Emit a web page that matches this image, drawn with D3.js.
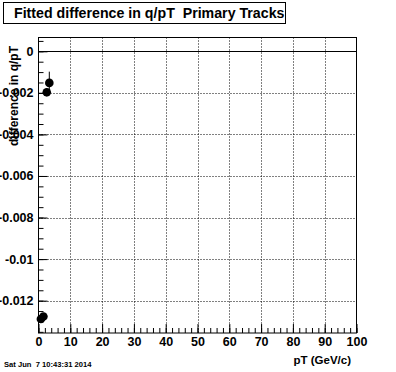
<!DOCTYPE html>
<html>
<head>
<meta charset="utf-8">
<script src="https://cdn.jsdelivr.net/npm/d3@7"></script>
<style>
  body { margin: 0; background: #fff; }
  text { font-family: "Liberation Sans", Arial, Helvetica, sans-serif; }
</style>
</head>
<body>
<div id="chart"></div>
<script>
// data
const ptValues = [0.75, 1.55, 2.6, 3.4];
const diffValues = [-0.01288, -0.01276, -0.00197, -0.00152];
const diffErrors = [0.00003, 0.00003, 0.0002, 0.00054];

const xTicks = [0, 10, 20, 30, 40, 50, 60, 70, 80, 90, 100];
const xTickLabels = ["0", "10", "20", "30", "40", "50", "60", "70", "80", "90", "100"];
const yTicks = [0, -0.002, -0.004, -0.006, -0.008, -0.01, -0.012];
const yTickLabels = ["0", "-0.002", "-0.004", "-0.006", "-0.008", "-0.01", "-0.012"];

const titleText = "Fitted difference in q/pT  Primary Tracks";
const xTitle = "pT (GeV/c)";
const yTitle = "difference in q/pT";
const dateText = "Sat Jun  7 10:43:31 2014";

const width = 396, height = 372;
const frame = { left: 38.5, right: 356.5, top: 37.5, bottom: 333 };

const svg = d3.select("#chart").append("svg")
    .attr("width", width)
    .attr("height", height);

const x = d3.scaleLinear().domain([0, 100]).range([frame.left, frame.right]);
const y = d3.scaleLinear().domain([-0.013556, 0.000664]).range([frame.bottom, frame.top]);

// dotted grid at major ticks
svg.append("g")
    .selectAll("line")
    .data(xTicks.slice(1, -1))
    .enter().append("line")
      .attr("x1", d => Math.round(x(d)) + 0.5)
      .attr("x2", d => Math.round(x(d)) + 0.5)
      .attr("y1", frame.top)
      .attr("y2", frame.bottom)
      .attr("stroke", "black")
      .attr("stroke-dasharray", "1,2");

svg.append("g")
    .selectAll("line")
    .data(yTicks.slice(1))
    .enter().append("line")
      .attr("x1", frame.left)
      .attr("x2", frame.right)
      .attr("y1", d => Math.round(y(d)) + 0.5)
      .attr("y2", d => Math.round(y(d)) + 0.5)
      .attr("stroke", "black")
      .attr("stroke-dasharray", "1,2");

// solid line at zero
svg.append("line")
    .attr("x1", frame.left)
    .attr("x2", frame.right)
    .attr("y1", Math.round(y(0)) + 0.5)
    .attr("y2", Math.round(y(0)) + 0.5)
    .attr("stroke", "black");

// axes, ticks pointing inside the frame
const xAxis = d3.axisBottom(x)
    .tickValues(xTicks)
    .tickFormat((d, i) => xTickLabels[i])
    .tickSizeInner(-9)
    .tickSizeOuter(0)
    .tickPadding(4);

const xMinor = d3.axisBottom(x)
    .tickValues(d3.range(0, 101, 2))
    .tickFormat("")
    .tickSizeInner(-5)
    .tickSizeOuter(0);

const yAxis = d3.axisLeft(y)
    .tickValues(yTicks)
    .tickFormat((d, i) => yTickLabels[i])
    .tickSizeInner(-9)
    .tickSizeOuter(0)
    .tickPadding(5);

const yMinor = d3.axisLeft(y)
    .tickValues(d3.range(0.0005, -0.0136, -0.0005))
    .tickFormat("")
    .tickSizeInner(-5)
    .tickSizeOuter(0);

function styleAxis(g) {
    g.select(".domain").remove();
    g.selectAll("line").attr("stroke", "black");
    g.selectAll("text")
        .attr("fill", "black")
        .style("font-size", "12.5px")
        .style("font-weight", "bold");
}

svg.append("g").attr("transform", `translate(0,${frame.bottom})`).call(xMinor).call(styleAxis);
svg.append("g").attr("transform", `translate(0,${frame.bottom})`).call(xAxis).call(styleAxis);
svg.append("g").attr("transform", `translate(${frame.left},0)`).call(yMinor).call(styleAxis);
svg.append("g").attr("transform", `translate(${frame.left},0)`).call(yAxis).call(styleAxis);

// frame
svg.append("rect")
    .attr("x", frame.left)
    .attr("y", frame.top)
    .attr("width", frame.right - frame.left)
    .attr("height", frame.bottom - frame.top)
    .attr("fill", "none")
    .attr("stroke", "black");

// error bars and markers
const points = ptValues.map((v, i) => ({ pt: v, diff: diffValues[i], err: diffErrors[i] }));

svg.append("g")
    .selectAll("line")
    .data(points)
    .enter().append("line")
      .attr("x1", d => x(d.pt))
      .attr("x2", d => x(d.pt))
      .attr("y1", d => y(d.diff + d.err))
      .attr("y2", d => y(d.diff - d.err))
      .attr("stroke", "black");

svg.append("g")
    .selectAll("circle")
    .data(points)
    .enter().append("circle")
      .attr("cx", d => x(d.pt))
      .attr("cy", d => y(d.diff))
      .attr("r", 4.3)
      .attr("fill", "black");

// title box
svg.append("rect")
    .attr("x", 3.5)
    .attr("y", 2.5)
    .attr("width", 282)
    .attr("height", 21)
    .attr("fill", "white")
    .attr("stroke", "black");

svg.append("text")
    .attr("x", 14)
    .attr("y", 18)
    .style("font-size", "14.2px")
    .style("font-weight", "bold")
    .style("white-space", "pre")
    .text(titleText);

// axis titles
svg.append("text")
    .attr("x", 351)
    .attr("y", 364)
    .attr("text-anchor", "end")
    .style("font-size", "11.5px")
    .style("font-weight", "bold")
    .text(xTitle);

svg.append("text")
    .attr("transform", "translate(17.5,46) rotate(-90)")
    .attr("text-anchor", "end")
    .style("font-size", "12px")
    .style("font-weight", "bold")
    .text(yTitle);

// date stamp
svg.append("text")
    .attr("x", 4)
    .attr("y", 367)
    .style("font-size", "7.6px")
    .style("font-weight", "bold")
    .style("white-space", "pre")
    .text(dateText);
</script>
</body>
</html>
